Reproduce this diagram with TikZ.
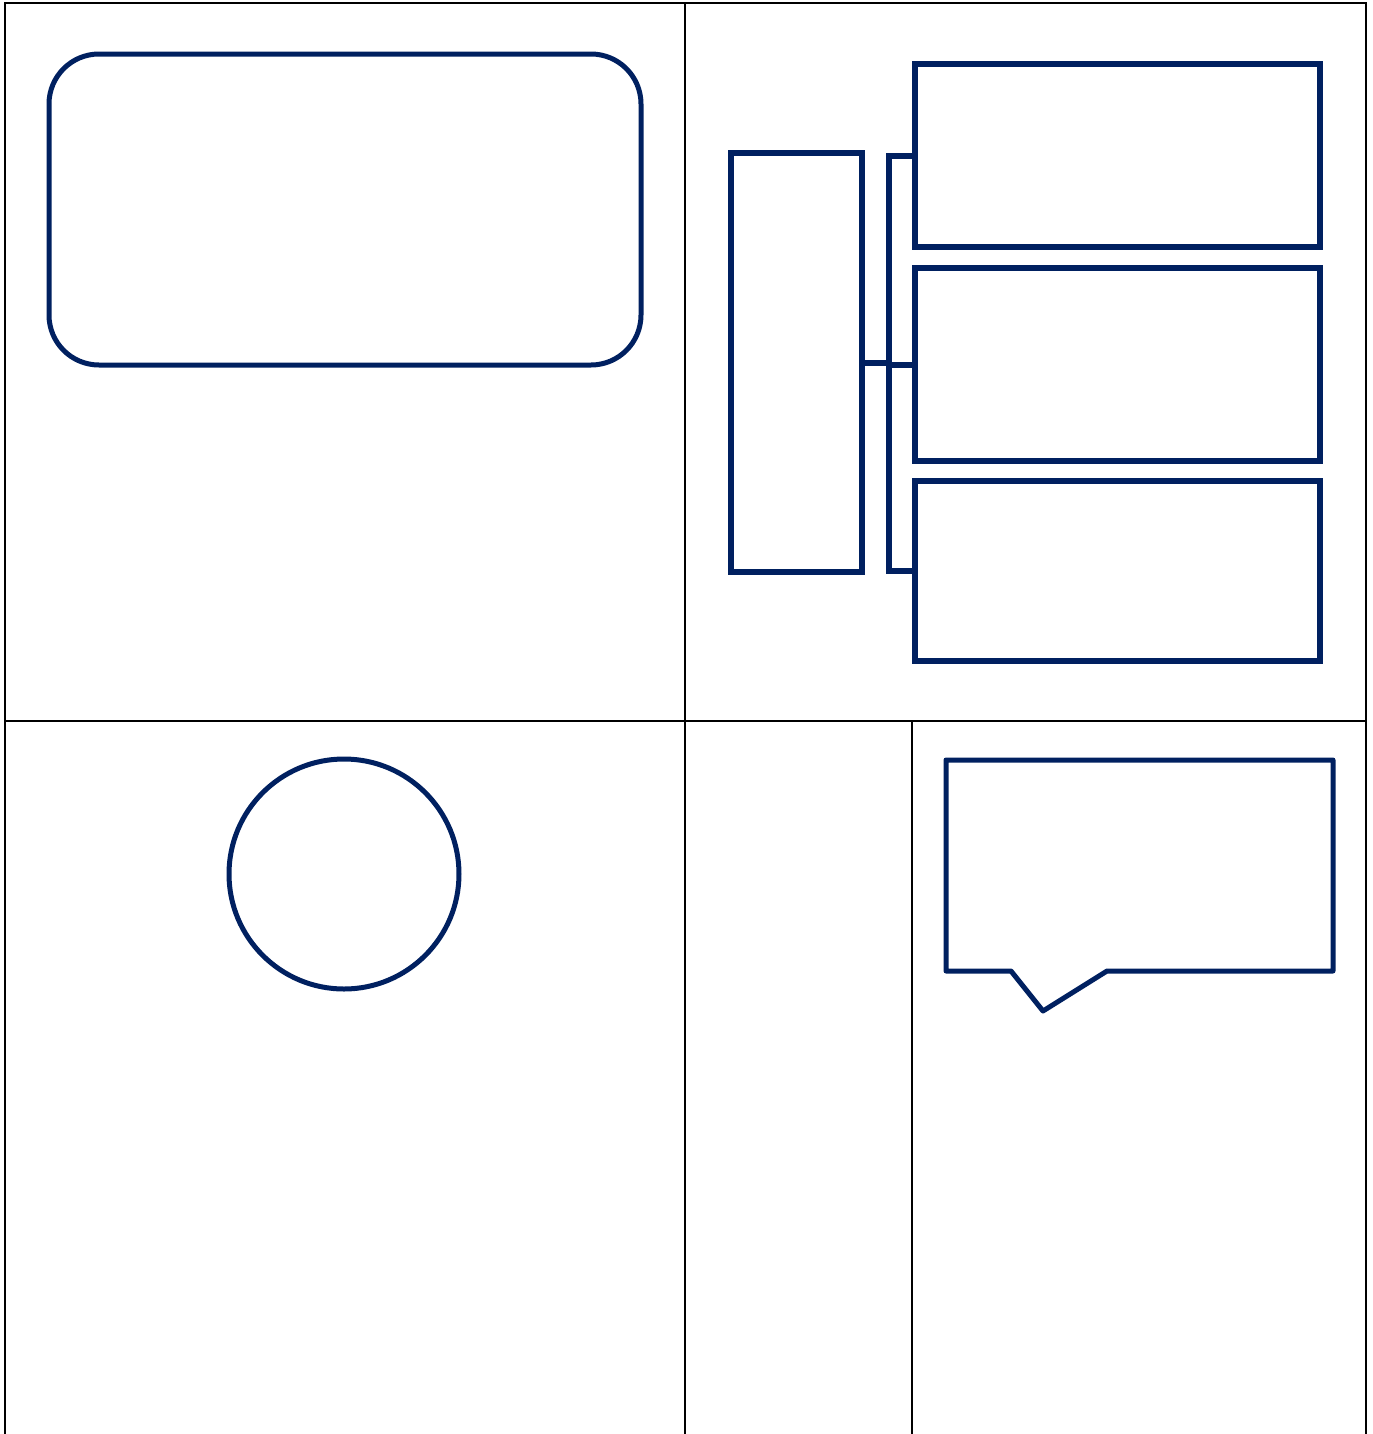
\documentclass[tikz,border=0pt]{standalone}
\usetikzlibrary{positioning}
\definecolor{navy}{HTML}{002060}
\tikzset{
  shape line/.style={draw=navy,line width=0.1cm},
  box/.style={shape line,rectangle,inner sep=0pt,outer sep=0pt},
  bracket/.style={shape line,line width=0.12cm},
  grid line/.style={draw=black,line width=0.04cm}
}
\begin{document}
\begin{tikzpicture}[x=0.02cm,y=-0.02cm]
\useasboundingbox (0,0) rectangle (1373,1434);
% table
\draw[grid line] (5,1434) -- (5,3) -- (1366,3) -- (1366,1434);
\draw[grid line] (685,3) -- (685,1434);
\draw[grid line] (5,721) -- (1366,721);
\draw[grid line] (912,721) -- (912,1434);
% rounded box
\node[box,rounded corners=1cm,minimum width=592*0.02cm,minimum height=311*0.02cm] (panel) at (345,209.5) {};
% hierarchy
\node[box,line width=0.11cm,minimum width=131*0.02cm,minimum height=419*0.02cm] (tall) at (796.5,362.5) {};
\node[box,line width=0.12cm,minimum width=405*0.02cm,minimum height=183*0.02cm] (box1) at (1117.5,155.5) {};
\node[box,line width=0.12cm,minimum width=405*0.02cm,minimum height=193*0.02cm] (box2) at (1117.5,364.5) {};
\node[box,line width=0.12cm,minimum width=405*0.02cm,minimum height=180*0.02cm] (box3) at (1117.5,571) {};
\coordinate (fork) at (889,362.5);
\draw[bracket] (tall.east) -- (fork);
\draw[bracket] (box1.west) -- (box1.west -| fork) -- (box3.west -| fork) -- (box3.west);
\draw[bracket] (box2.west -| fork) -- (box2.west);
% circle
\node[shape line,circle,inner sep=0pt,minimum size=230*0.02cm] (ring) at (344,874) {};
% speech bubble
\draw[shape line,line join=round] (946,760) -- (1333,760) -- (1333,971) -- (1107,971) -- (1043,1011) -- (1011,971) -- (946,971) -- cycle;
\end{tikzpicture}
\end{document}
